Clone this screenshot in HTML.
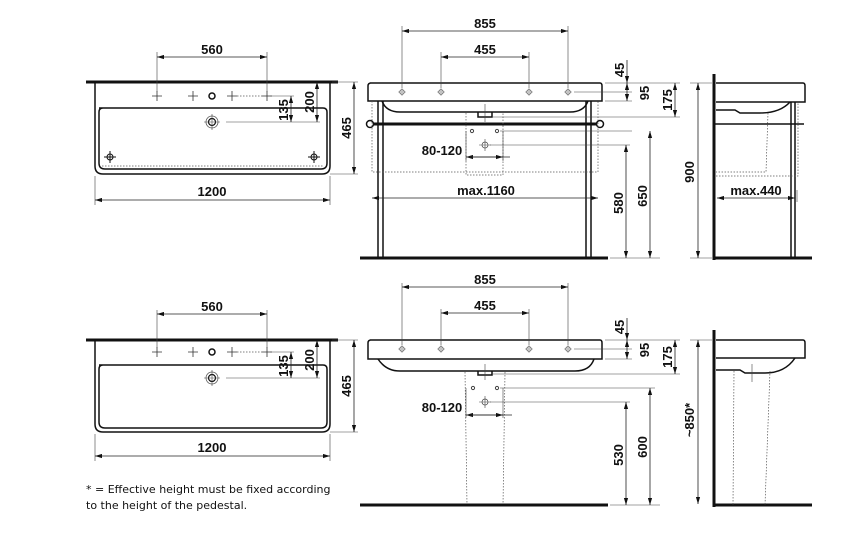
<!DOCTYPE html>
<html><head><meta charset="utf-8"><style>
html,body{margin:0;padding:0;background:#fff}
svg{display:block}
text{font-family:"Liberation Sans",sans-serif;font-weight:bold;font-size:13px;fill:#111}
.n{font-family:"DejaVu Sans","Liberation Sans",sans-serif;font-weight:normal;font-size:11px}
.d{stroke:#222;stroke-width:0.8;fill:none}
.e{stroke:#444;stroke-width:0.6;fill:none}
.o{stroke:#111;stroke-width:1.5;fill:none}
.t{stroke:#111;stroke-width:3;fill:none}
.dot{stroke:#555;stroke-width:0.7;fill:none;stroke-dasharray:1.5,1.5}
</style></head><body>
<svg width="856" height="548" viewBox="0 0 856 548" xmlns="http://www.w3.org/2000/svg">
<defs>
<marker id="a" viewBox="0 0 10 6" refX="10" refY="3" markerWidth="7" markerHeight="4.5" orient="auto-start-reverse" markerUnits="userSpaceOnUse"><path d="M0,0L10,3L0,6z" fill="#111"/></marker>
<g id="cr"><path d="M-5,0H5M0,-5V5" stroke="#333" stroke-width="0.8"/></g>
<g id="hole"><circle r="2.3" fill="none" stroke="#555" stroke-width="0.8"/><path d="M-4,0H4M0,-4V4" stroke="#777" stroke-width="0.5"/></g>
</defs>

<!-- ============ TOP LEFT PLAN ============ -->
<g>
<path class="t" d="M86,82H338"/>
<path class="o" d="M95,82V166Q95,174 103,174H322Q330,174 330,166V82"/>
<path class="o" d="M99,108H323Q327,108 327,112V163Q327,169 321,169H105Q99,169 99,163V112Q99,108 103,108" stroke-width="1"/>
<path class="dot" d="M102,166H324"/>
<use href="#cr" x="157" y="96"/><use href="#cr" x="193" y="96"/><use href="#cr" x="232" y="96"/><use href="#cr" x="267" y="96"/>
<circle cx="212" cy="96" r="3" fill="none" stroke="#111" stroke-width="1.5"/>
<path class="dot" d="M237,96H262"/>
<circle cx="212" cy="122" r="6" fill="none" stroke="#555" stroke-width="0.8"/>
<circle cx="212" cy="122" r="3.5" fill="none" stroke="#111" stroke-width="1.2"/>
<path class="e" d="M204,122H220M212,114V130M226,122H320M270,96H294"/>
<g transform="translate(110,157)"><path d="M-6,0H6M0,-6V6" stroke="#111" stroke-width="1"/><circle r="3" fill="none" stroke="#111"/></g>
<g transform="translate(314,157)"><path d="M-6,0H6M0,-6V6" stroke="#111" stroke-width="1"/><circle r="3" fill="none" stroke="#111"/></g>
<path class="e" d="M157,52V92M267,52V92"/>
<path class="d" d="M157,57H267" marker-start="url(#a)" marker-end="url(#a)"/>
<text x="212" y="54" text-anchor="middle">560</text>
<path class="d" d="M291,96V122" marker-start="url(#a)" marker-end="url(#a)"/>
<text transform="translate(288,110) rotate(-90)" text-anchor="middle">135</text>
<path class="d" d="M317,82V122" marker-start="url(#a)" marker-end="url(#a)"/>
<text transform="translate(314,102) rotate(-90)" text-anchor="middle">200</text>
<path class="e" d="M332,82H358M330,174H358"/>
<path class="d" d="M354,82V174" marker-start="url(#a)" marker-end="url(#a)"/>
<text transform="translate(351,128) rotate(-90)" text-anchor="middle">465</text>
<path class="e" d="M95,176V205M330,176V205"/>
<path class="d" d="M95,200H330" marker-start="url(#a)" marker-end="url(#a)"/>
<text x="212" y="196" text-anchor="middle">1200</text>
</g>

<!-- ============ TOP MIDDLE FRONT ============ -->
<g>
<path class="o" d="M370,83H600Q602,83 602,86V101H368V86Q368,83 371,83"/>
<path class="o" d="M382,101Q386,112 400,112H570Q584,112 588,101" stroke-width="1.2"/>
<path class="o" d="M478,112V117H492V112" stroke-width="1"/>
<path class="e" d="M485,104V122"/>
<use href="#hole" x="402" y="92"/><use href="#hole" x="441" y="92"/><use href="#hole" x="529" y="92"/><use href="#hole" x="568" y="92"/>
<path class="o" d="M378,101V258M383,101V258M586,101V258M591,101V258" stroke-width="1.2"/>
<path class="t" d="M370,124H600"/>
<circle cx="370" cy="124" r="3.5" fill="#fff" stroke="#111" stroke-width="1.5"/>
<circle cx="600" cy="124" r="3.5" fill="#fff" stroke="#111" stroke-width="1.5"/>
<path class="dot" d="M372,101V172H598V101"/>
<path class="dot" d="M466,113V175H503V113"/>
<circle cx="472" cy="131" r="1.6" fill="none" stroke="#444"/><circle cx="497" cy="131" r="1.6" fill="none" stroke="#444"/>
<g transform="translate(485,145)"><circle r="3" fill="none" stroke="#444" stroke-width="0.7"/><path d="M-6,0H6M0,-6V6" stroke="#444" stroke-width="0.6"/></g>
<path class="e" d="M466,131V161M503,131V161M500,131H632M490,145H630M492,117H680"/>
<path class="d" d="M466,157H510" marker-start="url(#a)"/>
<path class="d" d="M466,157H503" marker-end="url(#a)"/>
<text x="442" y="155" text-anchor="middle">80-120</text>
<path class="d" d="M372,198H598" marker-start="url(#a)" marker-end="url(#a)"/>
<text x="486" y="195" text-anchor="middle">max.1160</text>
<path class="t" d="M360,258H608" stroke-width="2"/>
<path class="e" d="M402,26V88M568,26V88M441,52V88M529,52V88"/>
<path class="d" d="M402,31H568" marker-start="url(#a)" marker-end="url(#a)"/>
<text x="485" y="28" text-anchor="middle">855</text>
<path class="d" d="M441,57H529" marker-start="url(#a)" marker-end="url(#a)"/>
<text x="485" y="54" text-anchor="middle">455</text>
<path class="e" d="M605,83H680M574,92H632M605,101H632M610,258H660"/>
<path class="d" d="M627,60V83" marker-end="url(#a)"/>
<path class="d" d="M627,83V101" marker-start="url(#a)" marker-end="url(#a)"/>
<text transform="translate(624,70) rotate(-90)" text-anchor="middle">45</text>
<text transform="translate(649,93) rotate(-90)" text-anchor="middle">95</text>
<path class="d" d="M675,83V117" marker-start="url(#a)" marker-end="url(#a)"/>
<text transform="translate(672,100) rotate(-90)" text-anchor="middle">175</text>
<path class="d" d="M626,145V258" marker-start="url(#a)" marker-end="url(#a)"/>
<text transform="translate(623,203) rotate(-90)" text-anchor="middle">580</text>
<path class="d" d="M650,131V258" marker-start="url(#a)" marker-end="url(#a)"/>
<text transform="translate(647,196) rotate(-90)" text-anchor="middle">650</text>
<path class="e" d="M690,83H712M690,258H712"/>
<path class="d" d="M698,83V258" marker-start="url(#a)" marker-end="url(#a)"/>
<text transform="translate(694,172) rotate(-90)" text-anchor="middle">900</text>
</g>

<!-- ============ TOP RIGHT SIDE ============ -->
<g>
<path class="t" d="M714,74V260" stroke-width="2.5"/>
<path class="t" d="M714,258H812" stroke-width="2"/>
<path class="o" d="M716,83H803Q805,83 805,86V102H716"/>
<path class="o" d="M716,110H735L740,113H760Q780,113 790,102" stroke-width="1"/>
<path class="o" d="M791,102V258M795,102V258" stroke-width="1.1"/>
<path class="o" d="M715,124H804" stroke-width="2"/>
<path class="dot" d="M768,113L766,172H716M716,176H798V102"/>
<path class="e" d="M797,190V202"/>
<path class="d" d="M717,198H795" marker-start="url(#a)" marker-end="url(#a)"/>
<text x="756" y="195" text-anchor="middle">max.440</text>
</g>

<!-- ============ BOTTOM LEFT PLAN ============ -->
<g>
<path class="t" d="M86,340H338"/>
<path class="o" d="M95,340V424Q95,432 103,432H322Q330,432 330,424V340"/>
<path class="o" d="M99,365H323Q327,365 327,369V422Q327,428 321,428H105Q99,428 99,422V369Q99,365 103,365" stroke-width="1"/>
<use href="#cr" x="157" y="352"/><use href="#cr" x="193" y="352"/><use href="#cr" x="232" y="352"/><use href="#cr" x="267" y="352"/>
<circle cx="212" cy="352" r="3" fill="none" stroke="#111" stroke-width="1.5"/>
<path class="dot" d="M237,352H262"/>
<circle cx="212" cy="378" r="6" fill="none" stroke="#555" stroke-width="0.8"/>
<circle cx="212" cy="378" r="3.5" fill="none" stroke="#111" stroke-width="1.2"/>
<path class="e" d="M204,378H220M212,370V386M226,378H320M270,352H294"/>
<path class="e" d="M157,310V348M267,310V348"/>
<path class="d" d="M157,314H267" marker-start="url(#a)" marker-end="url(#a)"/>
<text x="212" y="311" text-anchor="middle">560</text>
<path class="d" d="M291,352V378" marker-start="url(#a)" marker-end="url(#a)"/>
<text transform="translate(288,366) rotate(-90)" text-anchor="middle">135</text>
<path class="d" d="M317,340V378" marker-start="url(#a)" marker-end="url(#a)"/>
<text transform="translate(314,360) rotate(-90)" text-anchor="middle">200</text>
<path class="e" d="M332,340H358M330,432H358"/>
<path class="d" d="M354,340V432" marker-start="url(#a)" marker-end="url(#a)"/>
<text transform="translate(351,386) rotate(-90)" text-anchor="middle">465</text>
<path class="e" d="M95,434V461M330,434V461"/>
<path class="d" d="M95,456H330" marker-start="url(#a)" marker-end="url(#a)"/>
<text x="212" y="452" text-anchor="middle">1200</text>
<text class="n" x="86" y="493">* = Effective height must be fixed according</text>
<text class="n" x="86" y="509">to the height of the pedestal.</text>
</g>

<!-- ============ BOTTOM MIDDLE FRONT ============ -->
<g>
<path class="o" d="M370,340H600Q602,340 602,343V359H368V343Q368,340 371,340"/>
<path class="o" d="M378,359Q386,371 400,371H575Q590,371 594,359" stroke-width="1.2"/>
<path class="o" d="M478,371V375H492V371" stroke-width="1"/>
<path class="e" d="M485,364V380"/>
<use href="#hole" x="402" y="349"/><use href="#hole" x="441" y="349"/><use href="#hole" x="529" y="349"/><use href="#hole" x="568" y="349"/>
<path class="dot" d="M465,372L467,505M505,372L503,505"/>
<circle cx="473" cy="388" r="1.6" fill="none" stroke="#444"/><circle cx="497" cy="388" r="1.6" fill="none" stroke="#444"/>
<g transform="translate(485,402)"><circle r="3" fill="none" stroke="#444" stroke-width="0.7"/><path d="M-6,0H6M0,-6V6" stroke="#444" stroke-width="0.6"/></g>
<path class="e" d="M466,388V418M503,388V418M500,388H655M490,402H630M492,374H680"/>
<path class="d" d="M466,415H512" marker-start="url(#a)"/>
<path class="d" d="M466,415H503" marker-end="url(#a)"/>
<text x="442" y="412" text-anchor="middle">80-120</text>
<path class="t" d="M360,505H608" stroke-width="2"/>
<path class="e" d="M402,283V345M568,283V345M441,309V345M529,309V345"/>
<path class="d" d="M402,287H568" marker-start="url(#a)" marker-end="url(#a)"/>
<text x="485" y="284" text-anchor="middle">855</text>
<path class="d" d="M441,313H529" marker-start="url(#a)" marker-end="url(#a)"/>
<text x="485" y="310" text-anchor="middle">455</text>
<path class="e" d="M605,340H680M574,349H632M605,359H632M610,505H660"/>
<path class="d" d="M627,318V340" marker-end="url(#a)"/>
<path class="d" d="M627,340V359" marker-start="url(#a)" marker-end="url(#a)"/>
<text transform="translate(624,327) rotate(-90)" text-anchor="middle">45</text>
<text transform="translate(649,350) rotate(-90)" text-anchor="middle">95</text>
<path class="d" d="M675,340V374" marker-start="url(#a)" marker-end="url(#a)"/>
<text transform="translate(672,357) rotate(-90)" text-anchor="middle">175</text>
<path class="d" d="M626,402V505" marker-start="url(#a)" marker-end="url(#a)"/>
<text transform="translate(623,455) rotate(-90)" text-anchor="middle">530</text>
<path class="d" d="M650,388V505" marker-start="url(#a)" marker-end="url(#a)"/>
<text transform="translate(647,447) rotate(-90)" text-anchor="middle">600</text>
<path class="e" d="M690,340H712"/>
<path class="d" d="M698,340V504" marker-start="url(#a)" marker-end="url(#a)"/>
<text transform="translate(694,420) rotate(-90)" text-anchor="middle">~850*</text>
</g>

<!-- ============ BOTTOM RIGHT SIDE ============ -->
<g>
<path class="t" d="M714,330V507" stroke-width="2.5"/>
<path class="t" d="M714,505H812" stroke-width="2"/>
<path class="o" d="M716,340H803Q805,340 805,343V358H716"/>
<path class="o" d="M716,370H740L745,373H765Q785,373 795,358" stroke-width="1"/>
<path class="e" d="M752,364V382"/>
<path class="dot" d="M734,371L733,505M770,371L765,505"/>
</g>
</svg>
</body></html>
